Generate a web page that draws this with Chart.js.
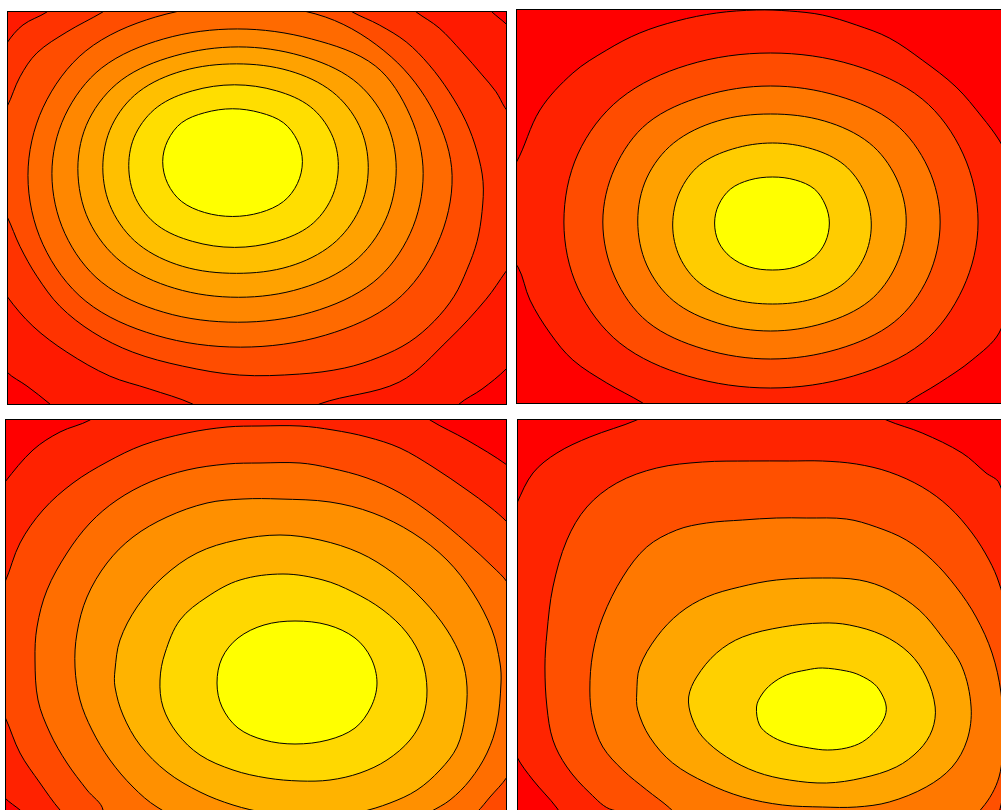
<!DOCTYPE html>
<html>
<head>
<meta charset="utf-8">
<title>Contour panels</title>
<script src="https://cdn.jsdelivr.net/npm/chart.js@4.4.1/dist/chart.umd.min.js"></script>
<style>
  html, body { margin: 0; padding: 0; background: #fff; }
  body { width: 1001px; height: 810px; position: relative; overflow: hidden; }
  canvas { position: absolute; }
</style>
</head>
<body>
<canvas id="tl" width="500" height="394" style="left:7px;top:11px"></canvas>
<canvas id="tr" width="500" height="395" style="left:516px;top:9px"></canvas>
<canvas id="bl" width="502" height="395" style="left:5px;top:419px"></canvas>
<canvas id="br" width="500" height="395" style="left:517px;top:419px"></canvas>
<script>
// contour rings per panel, outermost level first, points as [x, y] (y grows downwards)
// every ring repeats its first point at the end
const tlRing9 = [[-15,-15],[470,-15],[486,1],[493,7],[499,12],[515,30],[515,340],[500,359],[476,379],[453,394],[440,410],[60,410],[43,394],[20,376],[0,362],[-15,340],[-15,-15]];
const tlRing8 = [[40,1],[60,-15],[390,-15],[410,1],[433,17],[456,41],[476,64],[490,81],[499,97],[515,120],[515,240],[500,261],[480,289],[443,329],[393,372],[313,394],[290,410],[210,410],[186,394],[143,379],[103,366],[60,342],[26,316],[0,286],[-15,260],[-15,60],[0,32],[16,14],[40,1]];
const tlRing7 = [[346,1],[373,14],[400,31],[423,54],[443,81],[460,111],[471,141],[477,171],[476,201],[471,231],[461,259],[448,286],[428,311],[403,332],[373,347],[338,358],[293,364],[233,365],[176,356],[126,342],[86,322],[53,296],[30,266],[13,236],[0,206],[-15,180],[-15,120],[0,96],[13,66],[30,42],[60,21],[96,1],[120,-15],[320,-15],[346,1]];
const tlRing6 = [[446,165],[431,234],[389,291],[319,325],[234,337],[149,325],[79,291],[36,234],[21,165],[36,97],[79,40],[149,6],[234,-6],[319,6],[385,46],[428,102],[446,165]];
const tlRing5 = [[417,163],[404,223],[367,272],[305,302],[231,312],[157,302],[95,272],[58,223],[45,163],[58,105],[95,57],[157,28],[231,18],[305,28],[369,55],[404,105],[417,163]];
const tlRing4 = [[390,158],[379,210],[347,252],[295,278],[232,287],[168,278],[115,252],[82,210],[71,158],[82,109],[115,69],[168,45],[232,36],[295,45],[347,69],[379,109],[390,158]];
const tlRing3 = [[362,157],[353,199],[326,234],[283,256],[230,263],[176,256],[132,234],[105,199],[96,157],[105,115],[132,81],[176,60],[230,53],[283,60],[326,81],[353,115],[362,157]];
const tlRing2 = [[332,155],[325,188],[304,215],[270,231],[228,237],[186,231],[151,215],[129,188],[122,155],[129,123],[151,96],[186,80],[228,74],[270,80],[304,96],[325,123],[332,155]];
const tlRing1 = [[296,151],[291,173],[277,191],[254,202],[226,206],[198,202],[175,191],[161,173],[156,151],[161,130],[175,112],[198,102],[226,98],[254,102],[277,112],[291,130],[296,151]];

const trRing6 = [[0,154],[24,101],[57,64],[91,41],[124,24],[161,12],[201,4],[241,1],[274,2],[307,6],[341,16],[374,29],[407,51],[441,78],[467,108],[484,131],[500,160],[515,180],[515,260],[500,275],[484,324],[457,351],[424,374],[391,394],[370,410],[150,410],[127,394],[91,374],[57,351],[34,324],[14,291],[2,258],[-15,240],[-15,170],[0,154]];
const trRing5 = [[463,213],[448,279],[407,334],[338,367],[255,379],[172,367],[104,334],[62,279],[48,213],[62,145],[104,90],[172,56],[255,44],[338,56],[407,90],[448,145],[463,213]];
const trRing4 = [[425,213],[413,268],[379,313],[323,340],[255,350],[188,340],[132,313],[99,268],[87,213],[99,159],[132,114],[188,87],[255,77],[323,87],[379,114],[413,159],[425,213]];
const trRing3 = [[391,212],[381,256],[354,292],[309,314],[255,322],[202,314],[158,292],[131,256],[122,212],[131,169],[158,134],[202,112],[255,105],[309,112],[354,134],[381,169],[391,212]];
const trRing2 = [[356,216],[349,248],[329,274],[297,290],[257,295],[217,290],[184,274],[164,248],[157,216],[164,183],[184,156],[217,140],[257,134],[297,140],[329,156],[349,183],[356,216]];
const trRing1 = [[314,214],[310,233],[299,248],[280,258],[257,261],[234,258],[215,248],[203,233],[199,214],[203,196],[215,180],[234,171],[257,168],[280,171],[299,180],[310,196],[314,214]];

const blRing7 = [[85,1],[105,-15],[405,-15],[425,1],[462,21],[502,46],[516,60],[516,430],[50,430],[25,400],[15,391],[0,379],[-15,360],[-15,85],[0,63],[28,31],[55,13],[85,1]];
const blRing6 = [[0,163],[15,124],[38,91],[68,64],[102,43],[138,26],[182,14],[222,8],[255,7],[295,7],[328,11],[362,18],[395,29],[428,48],[462,71],[485,88],[502,103],[516,120],[516,440],[100,440],[55,391],[35,364],[15,334],[0,298],[-15,270],[-15,190],[0,163]];
const blRing5 = [[255,44],[295,44],[325,49],[362,59],[395,74],[428,96],[462,124],[488,148],[502,163],[516,190],[516,330],[502,358],[485,378],[472,393],[440,420],[260,440],[90,420],[98,391],[82,371],[62,344],[45,314],[33,281],[30,241],[32,208],[42,171],[62,134],[85,104],[112,81],[145,63],[182,51],[222,45],[255,44]];
const blRing4 = [[275,80],[325,83],[368,94],[408,114],[442,141],[468,174],[487,211],[495,244],[496,264],[492,304],[482,334],[465,361],[445,381],[425,393],[390,412],[300,422],[200,412],[152,388],[128,368],[105,341],[87,311],[75,281],[70,248],[72,214],[82,178],[102,144],[128,118],[162,98],[202,84],[238,80],[275,80]];
const blRing3 = [[275,116],[315,121],[355,134],[388,154],[418,181],[442,211],[457,241],[462,268],[460,298],[452,328],[435,351],[412,371],[385,384],[355,393],[328,396],[295,397],[262,394],[228,386],[195,373],[162,353],[135,326],[118,296],[110,268],[110,251],[115,221],[132,188],[158,158],[192,134],[232,121],[275,116]];
const blRing2 = [[278,155],[318,161],[348,173],[378,191],[402,214],[417,241],[422,271],[418,298],[405,321],[382,341],[355,354],[325,361],[295,362],[262,359],[228,351],[195,336],[172,314],[158,288],[155,261],[160,234],[175,201],[202,178],[235,161],[278,155]];
const blRing1 = [[290,202],[323,206],[350,219],[366,239],[372,264],[366,288],[350,309],[323,321],[290,325],[259,321],[233,309],[217,288],[212,264],[217,239],[233,219],[259,206],[290,202]];

const brRing6 = [[120,1],[73,18],[40,34],[16,54],[0,84],[-15,120],[-15,300],[0,338],[16,361],[40,389],[60,420],[440,440],[505,300],[510,150],[483,64],[470,54],[446,34],[406,14],[370,1],[340,-15],[150,-15],[120,1]];
const brRing5 = [[186,43],[233,42],[273,42],[306,42],[340,45],[373,53],[406,68],[433,88],[456,114],[473,141],[483,164],[495,210],[498,300],[490,360],[470,410],[300,430],[96,391],[73,374],[50,348],[36,321],[30,288],[28,248],[30,214],[36,168],[50,121],[70,88],[100,64],[140,49],[186,43]];
const brRing4 = [[290,99],[330,100],[360,108],[390,121],[416,141],[440,168],[460,198],[476,234],[485,274],[487,315],[483,358],[466,389],[430,420],[300,425],[180,415],[153,389],[130,371],[106,351],[86,328],[76,301],[73,271],[76,234],[86,198],[106,158],[130,128],[160,111],[190,104],[226,101],[260,99],[290,99]];
const brRing3 = [[306,159],[343,161],[373,171],[403,191],[426,218],[446,248],[455,288],[451,321],[436,348],[410,368],[373,383],[340,388],[306,388],[266,386],[226,378],[190,364],[156,344],[133,318],[121,291],[120,274],[123,248],[140,218],[163,194],[190,178],[223,168],[260,161],[306,159]];
const brRing2 = [[306,204],[333,206],[366,216],[393,234],[410,258],[419,288],[416,311],[403,331],[380,348],[346,359],[310,364],[273,361],[240,353],[210,338],[186,318],[175,298],[172,278],[180,258],[200,234],[226,218],[266,208],[306,204]];
const brRing1 = [[306,249],[330,252],[343,256],[358,265],[366,276],[370,288],[368,299],[360,311],[346,323],[330,329],[311,331],[293,329],[270,324],[253,316],[243,306],[240,288],[245,276],[255,265],[270,256],[290,251],[306,249]];

// band colours, lowest band first
const tlColours = ['#FF0000','#FF1A00','#FF3300','#FF4D00','#FF6A00','#FF8700','#FFA200','#FFBF00','#FFDE00','#FFFF00'];
const trColours = ['#FF0000','#FF2200','#FF4C00','#FF7700','#FFA100','#FFCC00','#FFFF00'];
const blColours = ['#FF0000','#FF2200','#FF4A00','#FF6E00','#FF9000','#FFB300','#FFD800','#FFFF00'];
const brColours = ['#FF0000','#FF2400','#FF5000','#FF7800','#FFA500','#FFD000','#FFFF00'];

// fills the plot area with the lowest band before the rings go on top
const bandBase = {
    id: 'bandBase',
    beforeDatasetsDraw: function(chart, args, opts) {
        const a = chart.chartArea;
        const ctx = chart.ctx;
        ctx.save();
        ctx.fillStyle = opts.colour;
        ctx.fillRect(a.left, a.top, a.right - a.left, a.bottom - a.top);
        ctx.restore();
    }
};

// treat every line as a closed loop, like the radar chart does, so the spline wraps round smoothly
const closedRings = {
    id: 'closedRings',
    afterDatasetsUpdate: function(chart) {
        chart.getSortedVisibleDatasetMetas().forEach(function(meta) {
            const line = meta.dataset;
            line._loop = true;
            line._fullLoop = true;
            line._pointsUpdated = false;
            delete line._segments;
            line._path = undefined;
        });
    }
};

function frameAxis(axis, position, max, reverse) {
    return {
        type: 'linear',
        axis: axis,
        position: position,
        min: 0,
        max: max,
        reverse: !!reverse,
        ticks: { display: false },
        grid: { display: false, drawTicks: false },
        border: { display: true, color: '#000', width: 1, z: 1 },
        title: { display: false }
    };
}

function drawPanel(id, rings, colours, xMax, yMax) {
    const datasets = rings.map(function(ring, i) {
        return {
            // the repeated end point is dropped, the loop closes itself
            data: ring.slice(0, -1).map(function(p) { return { x: p[0], y: p[1] }; }),
            backgroundColor: colours[i + 1],
            borderColor: '#000',
            borderWidth: 1,
            fill: 'shape',
            tension: 0.34,
            capBezierPoints: false,
            pointRadius: 0,
            clip: 0,
            order: rings.length - i
        };
    });

    new Chart(document.getElementById(id), {
        type: 'line',
        data: { datasets: datasets },
        options: {
            responsive: false,
            animation: false,
            events: [],
            layout: { autoPadding: false, padding: { left: 0, top: 0, right: 1, bottom: 1 } },
            plugins: {
                legend: { display: false },
                tooltip: { enabled: false },
                bandBase: { colour: colours[0] }
            },
            scales: {
                x: frameAxis('x', 'bottom', xMax),
                xTop: frameAxis('x', 'top', xMax),
                y: frameAxis('y', 'left', yMax, true),
                yRight: frameAxis('y', 'right', yMax, true)
            }
        },
        plugins: [bandBase, closedRings]
    });
}

drawPanel('tl', [tlRing9, tlRing8, tlRing7, tlRing6, tlRing5, tlRing4, tlRing3, tlRing2, tlRing1], tlColours, 500, 394);
drawPanel('tr', [trRing6, trRing5, trRing4, trRing3, trRing2, trRing1], trColours, 500, 394);
drawPanel('bl', [blRing7, blRing6, blRing5, blRing4, blRing3, blRing2, blRing1], blColours, 501, 394);
drawPanel('br', [brRing6, brRing5, brRing4, brRing3, brRing2, brRing1], brColours, 500, 394);
</script>
</body>
</html>
